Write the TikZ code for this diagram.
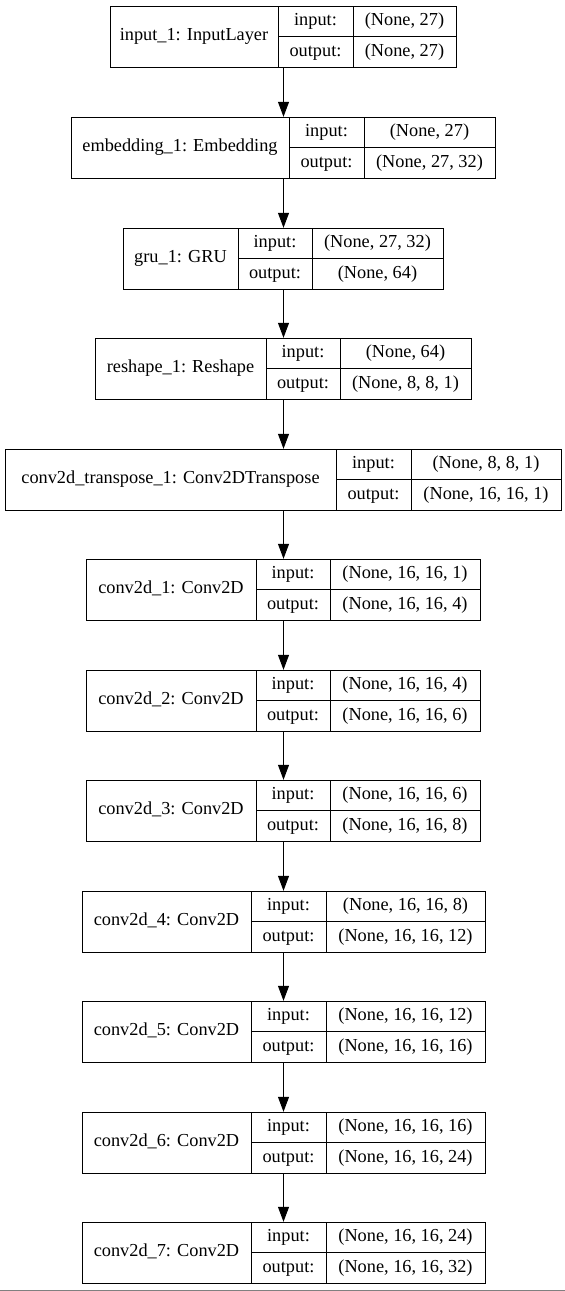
\documentclass[tikz,border=0pt]{standalone}
\usepackage{fontspec}
\setmainfont{Liberation Serif}
\usetikzlibrary{arrows.meta}

\tikzset{
  cell/.style={draw, line width=1pt, inner sep=0pt, text height=12.5pt, text depth=4pt},
  flow/.style={-{Triangle[length=15pt,width=11pt]}, line width=1pt},
}

\begin{document}
\begin{tikzpicture}[x=1pt, y=-1pt, font=\fontsize{18.3}{22}\selectfont]
\useasboundingbox (0,0) rectangle (565,1291);
% Layers: index/top/left/key column/value column/right/name/input/output
\foreach \i/\t/\a/\b/\c/\d/\nm/\in/\out in {
  1/6/110/278/353/456/{input\_1: InputLayer}/{(None, 27)}/{(None, 27)},
  2/117/71/289/364/495/{embedding\_1: Embedding}/{(None, 27)}/{(None, 27, 32)},
  3/228/123/238/312/443/{gru\_1: GRU}/{(None, 27, 32)}/{(None, 64)},
  4/338/95/266/340/471/{reshape\_1: Reshape}/{(None, 64)}/{(None, 8, 8, 1)},
  5/449/5/336/411/561/{conv2d\_transpose\_1: Conv2DTranspose}/{(None, 8, 8, 1)}/{(None, 16, 16, 1)},
  6/559/86/256/330/480/{conv2d\_1: Conv2D}/{(None, 16, 16, 1)}/{(None, 16, 16, 4)},
  7/670/86/256/330/480/{conv2d\_2: Conv2D}/{(None, 16, 16, 4)}/{(None, 16, 16, 6)},
  8/780/86/256/330/480/{conv2d\_3: Conv2D}/{(None, 16, 16, 6)}/{(None, 16, 16, 8)},
  9/891/82/251/326/485/{conv2d\_4: Conv2D}/{(None, 16, 16, 8)}/{(None, 16, 16, 12)},
  10/1001/82/251/326/485/{conv2d\_5: Conv2D}/{(None, 16, 16, 12)}/{(None, 16, 16, 16)},
  11/1112/82/251/326/485/{conv2d\_6: Conv2D}/{(None, 16, 16, 16)}/{(None, 16, 16, 24)},
  12/1222/82/251/326/485/{conv2d\_7: Conv2D}/{(None, 16, 16, 24)}/{(None, 16, 16, 32)}
}{
  \pgfmathsetmacro{\wn}{\b-\a}
  \pgfmathsetmacro{\wk}{\c-\b}
  \pgfmathsetmacro{\wv}{\d-\c}
  \pgfmathsetmacro{\wl}{\d-\a}
  % whole layer (for the arrows)
  \node[inner sep=0pt, minimum width=\wl pt, minimum height=61pt] (L\i) at (283.5,{\t+30.5}) {};
  % name cell
  \node[cell, minimum width=\wn pt, minimum height=61pt] (name\i) at ({(\a+\b)/2},{\t+30.5}) {\nm};
  % key cells
  \node[cell, minimum width=\wk pt, minimum height=30.5pt] (kin\i) at ({(\b+\c)/2},{\t+15.25}) {input:};
  \node[cell, minimum width=\wk pt, minimum height=30.5pt] (kout\i) at ({(\b+\c)/2},{\t+45.75}) {output:};
  % shape cells
  \node[cell, minimum width=\wv pt, minimum height=30.5pt] (vin\i) at ({(\c+\d)/2},{\t+15.25}) {\in};
  \node[cell, minimum width=\wv pt, minimum height=30.5pt] (vout\i) at ({(\c+\d)/2},{\t+45.75}) {\out};
}
% Arrows
\foreach \i [count=\j from 2] in {1,...,11}
  \draw[flow] (L\i) -- (L\j);
% bottom edge
\draw[gray, line width=1pt] (0,1290.5) -- (565,1290.5);
\end{tikzpicture}
\end{document}
